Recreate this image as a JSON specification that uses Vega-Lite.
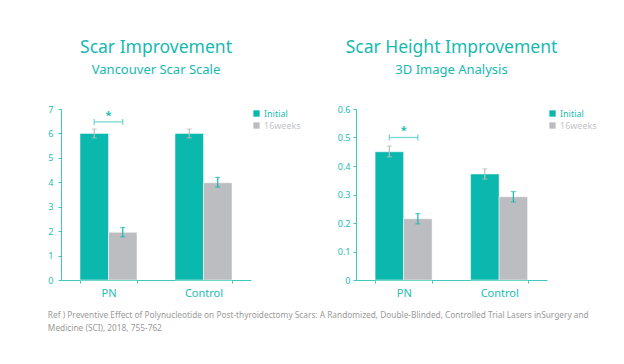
{
  "$schema": "https://vega.github.io/schema/vega-lite/v6.json",
  "background": "white",
  "padding": {"left": 47, "top": 38, "right": 5, "bottom": 5},
  "config": {
    "font": "Noto Sans",
    "view": {"stroke": null},
    "axis": {"grid": false, "domainColor": "#3ec9bf", "tickColor": "#3ec9bf", "labelColor": "#22bdb3", "title": null, "labelFont": "Noto Sans", "labelOverlap": false},
    "title": {"font": "Noto Sans", "color": "#17b9b0", "subtitleColor": "#17b9b0", "subtitleFont": "Noto Sans"},
    "legend": {"padding": 0}
  },
  "datasets": {
    "bars": [
      {"panel": "A", "group": "PN", "series": "Initial", "value": 6.0, "lo": 5.82, "hi": 6.18},
      {"panel": "A", "group": "PN", "series": "16weeks", "value": 1.95, "lo": 1.77, "hi": 2.15},
      {"panel": "A", "group": "Control", "series": "Initial", "value": 6.0, "lo": 5.82, "hi": 6.18},
      {"panel": "A", "group": "Control", "series": "16weeks", "value": 3.98, "lo": 3.8, "hi": 4.2},
      {"panel": "B", "group": "PN", "series": "Initial", "value": 0.45, "lo": 0.432, "hi": 0.47},
      {"panel": "B", "group": "PN", "series": "16weeks", "value": 0.215, "lo": 0.197, "hi": 0.233},
      {"panel": "B", "group": "Control", "series": "Initial", "value": 0.372, "lo": 0.354, "hi": 0.39},
      {"panel": "B", "group": "Control", "series": "16weeks", "value": 0.292, "lo": 0.274, "hi": 0.31}
    ],
    "sig": [
      {"panel": "A", "group": "PN", "series": "Initial", "y": 6.47, "ys": 6.72, "label": "*"},
      {"panel": "A", "group": "PN", "series": "16weeks", "y": 6.47, "ys": 6.72, "label": "*"},
      {"panel": "B", "group": "PN", "series": "Initial", "y": 0.5, "ys": 0.523, "label": "*"},
      {"panel": "B", "group": "PN", "series": "16weeks", "y": 0.5, "ys": 0.523, "label": "*"}
    ]
  },
  "title": {
    "text": ["Ref ) Preventive Effect of Polynucleotide on Post-thyroidectomy Scars: A Randomized, Double-Blinded, Controlled Trial Lasers inSurgery and", "Medicine (SCI), 2018, 755-762"],
    "orient": "bottom", "anchor": "start", "fontSize": 8.3, "fontWeight": "normal", "color": "#9a9a9a", "offset": 13, "lineHeight": 12.5, "dx": 0
  },
  "spacing": 36,
  "resolve": {"scale": {"color": "independent"}, "legend": {"color": "independent"}},
  "hconcat": [
    {
      "title": {"text": "Scar Improvement", "subtitle": "Vancouver Scar Scale", "fontSize": 17.5, "fontWeight": "normal", "subtitleFontSize": 13, "subtitlePadding": 8, "offset": 28, "anchor": "middle"},
      "width": 190,
      "height": 171,
      "encoding": {
        "x": {"field": "group", "type": "nominal", "sort": ["PN", "Control"], "scale": {"paddingInner": 0.4, "paddingOuter": 0.2}, "axis": {"labelAngle": 0, "labelFontSize": 11, "tickBand": "extent", "tickSize": 3, "labelPadding": 4}}
      },
      "layer": [
        {
          "data": {"name": "bars"},
          "transform": [{"filter": "datum.panel === 'A'"}],
          "mark": {"type": "bar", "stroke": "white", "strokeWidth": 0.5},
          "encoding": {
            "xOffset": {"field": "series", "type": "nominal", "sort": ["Initial", "16weeks"], "scale": {"paddingInner": 0}},
            "y": {"field": "value", "type": "quantitative", "scale": {"domain": [0, 7]}, "axis": {"values": [0, 1, 2, 3, 4, 5, 6, 7], "labelOverlap": false, "labelFontSize": 9, "tickSize": 3, "labelPadding": 5}},
            "color": {"field": "series", "type": "nominal", "sort": ["Initial", "16weeks"], "scale": {"domain": ["Initial", "16weeks"], "range": ["#0bb8ad", "#bcbdc1"]},
              "legend": {"title": null, "orient": "right", "offset": 1, "symbolType": "square", "symbolSize": 40, "labelFontSize": 9, "rowPadding": 2, "labelOffset": 3, "symbolStrokeWidth": 0,
                "labelColor": {"expr": "datum.label === 'Initial' ? '#22bdb3' : '#c4c4c8'"}}}
          }
        },
        {
          "data": {"name": "bars"},
          "transform": [{"filter": "datum.panel === 'A'"}],
          "mark": {"type": "rule", "strokeWidth": 1.2},
          "encoding": {
            "xOffset": {"field": "series", "type": "nominal", "sort": ["Initial", "16weeks"]},
            "y": {"field": "lo", "type": "quantitative", "axis": {"values": [0, 1, 2, 3, 4, 5, 6, 7], "labelOverlap": false, "labelFontSize": 9, "tickSize": 3, "labelPadding": 5}},
            "y2": {"field": "hi"},
            "color": {"condition": {"test": "datum.series === 'Initial'", "value": "#bdbdbd"}, "value": "#11b8ae"}
          }
        },
        {
          "data": {"name": "bars"},
          "transform": [{"filter": "datum.panel === 'A'"}, {"fold": ["lo", "hi"], "as": ["end", "ev"]}],
          "mark": {"type": "tick", "size": 5, "thickness": 1.2},
          "encoding": {
            "xOffset": {"field": "series", "type": "nominal", "sort": ["Initial", "16weeks"]},
            "y": {"field": "ev", "type": "quantitative", "axis": {"values": [0, 1, 2, 3, 4, 5, 6, 7], "labelOverlap": false, "labelFontSize": 9, "tickSize": 3, "labelPadding": 5}},
            "color": {"condition": {"test": "datum.series === 'Initial'", "value": "#bdbdbd"}, "value": "#11b8ae"}
          }
        },
        {
          "data": {"name": "sig"},
          "transform": [{"filter": "datum.panel === 'A' && datum.series === 'Initial'"}],
          "mark": {"type": "tick", "size": 28, "thickness": 1.3, "color": "#3ec9bf"},
          "encoding": {
            "y": {"field": "y", "type": "quantitative", "axis": {"values": [0, 1, 2, 3, 4, 5, 6, 7], "labelOverlap": false, "labelFontSize": 9, "tickSize": 3, "labelPadding": 5}}
          }
        },
        {
          "data": {"name": "sig"},
          "transform": [{"filter": "datum.panel === 'A'"}],
          "mark": {"type": "tick", "orient": "vertical", "size": 6, "thickness": 1.3, "color": "#3ec9bf"},
          "encoding": {
            "xOffset": {"field": "series", "type": "nominal", "sort": ["Initial", "16weeks"]},
            "y": {"field": "y", "type": "quantitative", "axis": {"values": [0, 1, 2, 3, 4, 5, 6, 7], "labelOverlap": false, "labelFontSize": 9, "tickSize": 3, "labelPadding": 5}}
          }
        },
        {
          "data": {"name": "sig"},
          "transform": [{"filter": "datum.panel === 'A' && datum.series === 'Initial'"}],
          "mark": {"type": "text", "fontSize": 11, "color": "#22bdb3", "baseline": "middle", "fontWeight": "bold"},
          "encoding": {
            "y": {"field": "ys", "type": "quantitative", "axis": {"values": [0, 1, 2, 3, 4, 5, 6, 7], "labelOverlap": false, "labelFontSize": 9, "tickSize": 3, "labelPadding": 5}},
            "text": {"field": "label"}
          }
        }
      ]
    },
    {
      "title": {"text": "Scar Height Improvement", "subtitle": "3D Image Analysis", "fontSize": 17.5, "fontWeight": "normal", "subtitleFontSize": 13, "subtitlePadding": 8, "offset": 28, "anchor": "middle"},
      "width": 191,
      "height": 171,
      "encoding": {
        "x": {"field": "group", "type": "nominal", "sort": ["PN", "Control"], "scale": {"paddingInner": 0.4, "paddingOuter": 0.2}, "axis": {"labelAngle": 0, "labelFontSize": 11, "tickBand": "extent", "tickSize": 3, "labelPadding": 4}}
      },
      "layer": [
        {
          "data": {"name": "bars"},
          "transform": [{"filter": "datum.panel === 'B'"}],
          "mark": {"type": "bar", "stroke": "white", "strokeWidth": 0.5},
          "encoding": {
            "xOffset": {"field": "series", "type": "nominal", "sort": ["Initial", "16weeks"], "scale": {"paddingInner": 0}},
            "y": {"field": "value", "type": "quantitative", "scale": {"domain": [0, 0.6]}, "axis": {"values": [0, 0.1, 0.2, 0.3, 0.4, 0.5, 0.6], "format": ".1~f", "labelOverlap": false, "labelFontSize": 9, "tickSize": 3, "labelPadding": 3}},
            "color": {"field": "series", "type": "nominal", "sort": ["Initial", "16weeks"], "scale": {"domain": ["Initial", "16weeks"], "range": ["#0bb8ad", "#bcbdc1"]},
              "legend": {"title": null, "orient": "right", "offset": 1, "symbolType": "square", "symbolSize": 40, "labelFontSize": 9, "rowPadding": 2, "labelOffset": 3, "symbolStrokeWidth": 0,
                "labelColor": {"expr": "datum.label === 'Initial' ? '#22bdb3' : '#c4c4c8'"}}}
          }
        },
        {
          "data": {"name": "bars"},
          "transform": [{"filter": "datum.panel === 'B'"}],
          "mark": {"type": "rule", "strokeWidth": 1.2},
          "encoding": {
            "xOffset": {"field": "series", "type": "nominal", "sort": ["Initial", "16weeks"]},
            "y": {"field": "lo", "type": "quantitative", "axis": {"values": [0, 0.1, 0.2, 0.3, 0.4, 0.5, 0.6], "format": ".1~f", "labelOverlap": false, "labelFontSize": 9, "tickSize": 3, "labelPadding": 3}},
            "y2": {"field": "hi"},
            "color": {"condition": {"test": "datum.series === 'Initial'", "value": "#bdbdbd"}, "value": "#11b8ae"}
          }
        },
        {
          "data": {"name": "bars"},
          "transform": [{"filter": "datum.panel === 'B'"}, {"fold": ["lo", "hi"], "as": ["end", "ev"]}],
          "mark": {"type": "tick", "size": 5, "thickness": 1.2},
          "encoding": {
            "xOffset": {"field": "series", "type": "nominal", "sort": ["Initial", "16weeks"]},
            "y": {"field": "ev", "type": "quantitative", "axis": {"values": [0, 0.1, 0.2, 0.3, 0.4, 0.5, 0.6], "format": ".1~f", "labelOverlap": false, "labelFontSize": 9, "tickSize": 3, "labelPadding": 3}},
            "color": {"condition": {"test": "datum.series === 'Initial'", "value": "#bdbdbd"}, "value": "#11b8ae"}
          }
        },
        {
          "data": {"name": "sig"},
          "transform": [{"filter": "datum.panel === 'B' && datum.series === 'Initial'"}],
          "mark": {"type": "tick", "size": 28, "thickness": 1.3, "color": "#3ec9bf"},
          "encoding": {
            "y": {"field": "y", "type": "quantitative", "axis": {"values": [0, 0.1, 0.2, 0.3, 0.4, 0.5, 0.6], "format": ".1~f", "labelOverlap": false, "labelFontSize": 9, "tickSize": 3, "labelPadding": 3}}
          }
        },
        {
          "data": {"name": "sig"},
          "transform": [{"filter": "datum.panel === 'B'"}],
          "mark": {"type": "tick", "orient": "vertical", "size": 6, "thickness": 1.3, "color": "#3ec9bf"},
          "encoding": {
            "xOffset": {"field": "series", "type": "nominal", "sort": ["Initial", "16weeks"]},
            "y": {"field": "y", "type": "quantitative", "axis": {"values": [0, 0.1, 0.2, 0.3, 0.4, 0.5, 0.6], "format": ".1~f", "labelOverlap": false, "labelFontSize": 9, "tickSize": 3, "labelPadding": 3}}
          }
        },
        {
          "data": {"name": "sig"},
          "transform": [{"filter": "datum.panel === 'B' && datum.series === 'Initial'"}],
          "mark": {"type": "text", "fontSize": 11, "color": "#22bdb3", "baseline": "middle", "fontWeight": "bold"},
          "encoding": {
            "y": {"field": "ys", "type": "quantitative", "axis": {"values": [0, 0.1, 0.2, 0.3, 0.4, 0.5, 0.6], "format": ".1~f", "labelOverlap": false, "labelFontSize": 9, "tickSize": 3, "labelPadding": 3}},
            "text": {"field": "label"}
          }
        }
      ]
    }
  ]
}
